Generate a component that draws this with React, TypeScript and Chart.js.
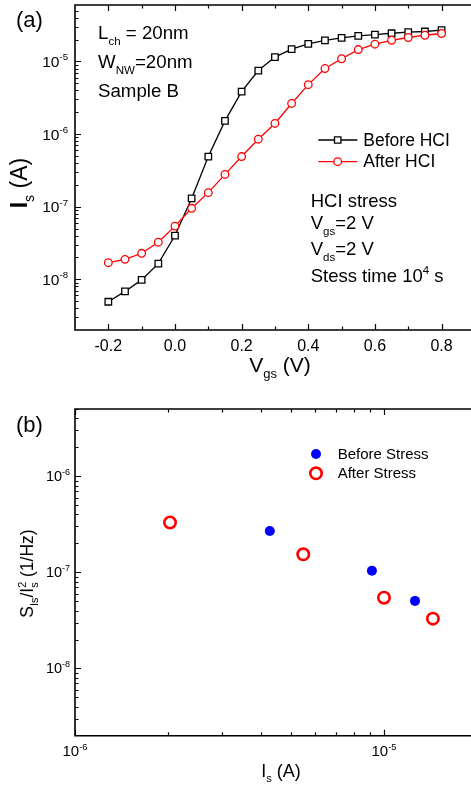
import React, { useEffect, useRef } from 'react';
import { Chart, registerables } from 'chart.js';

Chart.register(...registerables);

const FONT = '"Liberation Sans", Arial, Helvetica, sans-serif';

// ---------- Panel (a) data ----------
const vgs = [-0.2, -0.15, -0.1, -0.05, 0.0, 0.05, 0.1, 0.15, 0.2, 0.25, 0.3, 0.35, 0.4, 0.45, 0.5, 0.55, 0.6, 0.65, 0.7, 0.75, 0.8];
const isBeforeHCI = [4.9e-9, 6.8e-9, 9.8e-9, 1.64e-8, 4.0e-8, 1.3e-7, 4.9e-7, 1.52e-6, 3.85e-6, 7.5e-6, 1.15e-5, 1.48e-5, 1.75e-5, 1.95e-5, 2.12e-5, 2.26e-5, 2.35e-5, 2.45e-5, 2.53e-5, 2.59e-5, 2.7e-5];
const isAfterHCI = [1.69e-8, 1.88e-8, 2.28e-8, 3.24e-8, 5.4e-8, 9.5e-8, 1.56e-7, 2.78e-7, 4.9e-7, 8.5e-7, 1.4e-6, 2.64e-6, 4.8e-6, 8.0e-6, 1.09e-5, 1.46e-5, 1.73e-5, 1.96e-5, 2.14e-5, 2.3e-5, 2.43e-5];
const aXTickValues = [-0.2, 0.0, 0.2, 0.4, 0.6, 0.8];
const aXTickLabels = ['-0.2', '0.0', '0.2', '0.4', '0.6', '0.8'];
const aXMinorTicks = [-0.1, 0.1, 0.3, 0.5, 0.7];
const aYTickExps = [-8, -7, -6, -5];

// ---------- Panel (b) data ----------
const beforeStressIs = [4.27e-6, 9.14e-6, 1.26e-5];
const beforeStressNoise = [2.69e-7, 1.04e-7, 5.05e-8];
const afterStressIs = [2.03e-6, 5.48e-6, 1.0e-5, 1.44e-5];
const afterStressNoise = [3.3e-7, 1.54e-7, 5.45e-8, 3.3e-8];
const bXTickExps = [-6, -5];
const bYTickExps = [-8, -7, -6];

type Seg = { t: string; sub?: boolean; sup?: boolean; bold?: boolean; under?: string };

function segFont(size: number, bold?: boolean) {
  return `${bold ? 'bold ' : ''}${size}px ${FONT}`;
}

function richWidth(ctx: CanvasRenderingContext2D, segs: Seg[], size: number) {
  let w = 0;
  for (const s of segs) {
    const fs = s.sub || s.sup ? size * 0.62 : size;
    ctx.font = segFont(fs, s.bold);
    let sw = ctx.measureText(s.t).width;
    if (s.under) sw = Math.max(sw, ctx.measureText(s.under).width);
    w += sw;
  }
  return w;
}

function drawRich(ctx: CanvasRenderingContext2D, segs: Seg[], x: number, y: number, size: number, align: 'left' | 'center' | 'right' = 'left') {
  const total = richWidth(ctx, segs, size);
  let cx = align === 'left' ? x : align === 'center' ? x - total / 2 : x - total;
  ctx.textAlign = 'left';
  ctx.textBaseline = 'alphabetic';
  ctx.fillStyle = '#000';
  for (const s of segs) {
    const fs = s.sub || s.sup ? size * 0.62 : size;
    ctx.font = segFont(fs, s.bold);
    const dy = s.sub ? size * 0.3 : s.sup ? -size * 0.42 : 0;
    ctx.fillText(s.t, cx, y + dy);
    let sw = ctx.measureText(s.t).width;
    if (s.under) {
      ctx.fillText(s.under, cx, y + size * 0.3);
      sw = Math.max(sw, ctx.measureText(s.under).width);
    }
    cx += sw;
  }
}

function drawRotated(ctx: CanvasRenderingContext2D, segs: Seg[], x: number, y: number, size: number) {
  ctx.save();
  ctx.translate(x, y);
  ctx.rotate(-Math.PI / 2);
  drawRich(ctx, segs, 0, 0, size, 'center');
  ctx.restore();
}

function logMinors(min: number, max: number) {
  const out: number[] = [];
  for (let d = Math.floor(Math.log10(min)); d <= Math.ceil(Math.log10(max)); d++) {
    for (let m = 2; m <= 9; m++) {
      const v = m * Math.pow(10, d);
      if (v > min && v < max) out.push(v);
    }
  }
  return out;
}

function drawFrame(ctx: CanvasRenderingContext2D, a: { left: number; right: number; top: number; bottom: number }) {
  ctx.save();
  ctx.strokeStyle = '#000';
  ctx.lineWidth = 1.6;
  ctx.beginPath();
  ctx.moveTo(a.left, a.top);
  ctx.lineTo(a.right, a.top);
  ctx.lineTo(a.right, a.bottom);
  ctx.lineTo(a.left, a.bottom);
  ctx.closePath();
  ctx.stroke();
  ctx.restore();
}

function drawXTicks(ctx: CanvasRenderingContext2D, a: any, xs: any, vals: number[], len: number) {
  ctx.save();
  ctx.strokeStyle = '#000';
  ctx.lineWidth = 1.2;
  ctx.beginPath();
  for (const v of vals) {
    const px = Math.round(xs.getPixelForValue(v)) + 0.5;
    ctx.moveTo(px, a.bottom);
    ctx.lineTo(px, a.bottom - len);
    ctx.moveTo(px, a.top);
    ctx.lineTo(px, a.top + len);
  }
  ctx.stroke();
  ctx.restore();
}

function drawYTicks(ctx: CanvasRenderingContext2D, a: any, ys: any, vals: number[], len: number) {
  ctx.save();
  ctx.strokeStyle = '#000';
  ctx.lineWidth = 1.2;
  ctx.beginPath();
  for (const v of vals) {
    const py = Math.round(ys.getPixelForValue(v)) + 0.5;
    ctx.moveTo(a.left, py);
    ctx.lineTo(a.left + len, py);
  }
  ctx.stroke();
  ctx.restore();
}

function powLabel(e: number): Seg[] {
  return [{ t: '10' }, { t: String(e), sup: true }];
}

const panelAPlugin = {
  id: 'panelA',
  beforeDatasetsDraw(chart: any) {
    const ctx = chart.ctx as CanvasRenderingContext2D;
    const a = chart.chartArea;
    const xs = chart.scales.x;
    const ys = chart.scales.y;
    drawFrame(ctx, a);
    drawXTicks(ctx, a, xs, aXTickValues, 6);
    drawXTicks(ctx, a, xs, aXMinorTicks, 3.5);
    drawYTicks(ctx, a, ys, aYTickExps.map((e) => Math.pow(10, e)), 6);
    drawYTicks(ctx, a, ys, logMinors(ys.min, ys.max), 3.5);
  },
  afterDraw(chart: any) {
    const ctx = chart.ctx as CanvasRenderingContext2D;
    const xs = chart.scales.x;
    const ys = chart.scales.y;
    ctx.save();
    // tick labels
    aXTickValues.forEach((v, i) => {
      drawRich(ctx, [{ t: aXTickLabels[i] }], xs.getPixelForValue(v), 351, 16, 'center');
    });
    aYTickExps.forEach((e) => {
      drawRich(ctx, powLabel(e), 68, ys.getPixelForValue(Math.pow(10, e)) + 5.5, 15.5, 'right');
    });
    // axis titles
    drawRich(ctx, [{ t: 'V' }, { t: 'gs', sub: true }, { t: ' (V)' }], 280, 372, 21, 'center');
    drawRotated(ctx, [{ t: 'I', bold: true }, { t: 's', sub: true }, { t: ' (A)' }], 27, 183, 23);
    // panel label
    drawRich(ctx, [{ t: '(a)' }], 16, 26.5, 22);
    // device annotation
    drawRich(ctx, [{ t: 'L' }, { t: 'ch', sub: true }, { t: ' = 20nm' }], 98, 39.3, 18.7);
    drawRich(ctx, [{ t: 'W' }, { t: 'NW', sub: true }, { t: '=20nm' }], 98, 68.3, 18.7);
    drawRich(ctx, [{ t: 'Sample B' }], 98, 97, 18.7);
    // stress annotation
    drawRich(ctx, [{ t: 'HCI stress' }], 310.7, 206.7, 18.5);
    drawRich(ctx, [{ t: 'V' }, { t: 'gs', sub: true }, { t: '=2 V' }], 310.7, 229.3, 18.5);
    drawRich(ctx, [{ t: 'V' }, { t: 'ds', sub: true }, { t: '=2 V' }], 310.7, 255, 18.5);
    drawRich(ctx, [{ t: 'Stess time 10' }, { t: '4', sup: true }, { t: ' s' }], 310.7, 281.7, 18.5);
    // legend
    const leg = [
      { y: 140, color: '#000000', style: 'rect', label: 'Before HCI', base: 145.7 },
      { y: 161.7, color: '#ff0000', style: 'circle', label: 'After HCI', base: 166.7 },
    ];
    for (const l of leg) {
      ctx.strokeStyle = l.color;
      ctx.lineWidth = 1.3;
      ctx.beginPath();
      ctx.moveTo(318.3, l.y);
      ctx.lineTo(357.3, l.y);
      ctx.stroke();
      ctx.fillStyle = '#fff';
      ctx.beginPath();
      if (l.style === 'rect') {
        ctx.rect(337.7 - 3.2, l.y - 3.2, 6.4, 6.4);
      } else {
        ctx.arc(337.7, l.y, 3.8, 0, Math.PI * 2);
      }
      ctx.fill();
      ctx.stroke();
      drawRich(ctx, [{ t: l.label }], 363.3, l.base, 17.5);
    }
    ctx.restore();
  },
};

const panelBPlugin = {
  id: 'panelB',
  beforeDatasetsDraw(chart: any) {
    const ctx = chart.ctx as CanvasRenderingContext2D;
    const a = chart.chartArea;
    const xs = chart.scales.x;
    const ys = chart.scales.y;
    drawFrame(ctx, a);
    drawXTicks(ctx, a, xs, bXTickExps.map((e) => Math.pow(10, e)), 6);
    drawXTicks(ctx, a, xs, logMinors(xs.min, xs.max), 3.5);
    drawYTicks(ctx, a, ys, bYTickExps.map((e) => Math.pow(10, e)), 6);
    drawYTicks(ctx, a, ys, logMinors(ys.min, ys.max), 3.5);
  },
  afterDraw(chart: any) {
    const ctx = chart.ctx as CanvasRenderingContext2D;
    const xs = chart.scales.x;
    const ys = chart.scales.y;
    ctx.save();
    bXTickExps.forEach((e) => {
      drawRich(ctx, powLabel(e), xs.getPixelForValue(Math.pow(10, e)), 356, 15, 'center');
    });
    bYTickExps.forEach((e) => {
      drawRich(ctx, powLabel(e), 70, ys.getPixelForValue(Math.pow(10, e)) + 5, 14.5, 'right');
    });
    drawRich(ctx, [{ t: 'I' }, { t: 's', sub: true }, { t: ' (A)' }], 281, 377, 18, 'center');
    drawRotated(
      ctx,
      [{ t: 'S' }, { t: 'Is', sub: true }, { t: '/I' }, { t: '2', sup: true, under: 's' }, { t: ' (1/Hz)' }],
      33,
      173.5,
      17.5
    );
    drawRich(ctx, [{ t: '(b)' }], 16, 31.7, 22);
    // legend
    ctx.fillStyle = '#0000ff';
    ctx.beginPath();
    ctx.arc(316, 54, 5, 0, Math.PI * 2);
    ctx.fill();
    ctx.strokeStyle = '#ff0000';
    ctx.lineWidth = 2.6;
    ctx.beginPath();
    ctx.arc(316, 73.3, 5.7, 0, Math.PI * 2);
    ctx.stroke();
    drawRich(ctx, [{ t: 'Before Stress' }], 337.7, 59.3, 15);
    drawRich(ctx, [{ t: 'After Stress' }], 337.7, 78.3, 15);
    ctx.restore();
  },
};

export default function App() {
  const refA = useRef<HTMLCanvasElement | null>(null);
  const refB = useRef<HTMLCanvasElement | null>(null);

  useEffect(() => {
    if (!refA.current || !refB.current) return;
    const chartA = new Chart(refA.current, {
      type: 'line',
      data: {
        datasets: [
          {
            label: 'Before HCI',
            data: vgs.map((v, i) => ({ x: v, y: isBeforeHCI[i] })),
            borderColor: '#000000',
            backgroundColor: '#ffffff',
            pointBackgroundColor: '#ffffff',
            pointBorderColor: '#000000',
            pointStyle: 'rect',
            pointRadius: 4.6,
            pointBorderWidth: 1.3,
            borderWidth: 1.3,
            tension: 0,
            order: 1,
          },
          {
            label: 'After HCI',
            data: vgs.map((v, i) => ({ x: v, y: isAfterHCI[i] })),
            borderColor: '#ff0000',
            backgroundColor: '#ffffff',
            pointBackgroundColor: '#ffffff',
            pointBorderColor: '#ff0000',
            pointStyle: 'circle',
            pointRadius: 3.8,
            pointBorderWidth: 1.3,
            borderWidth: 1.3,
            tension: 0,
            order: 0,
          },
        ],
      },
      options: {
        responsive: false,
        animation: false,
        events: [],
        layout: { autoPadding: false, padding: { left: 0, top: 5, right: 5.1, bottom: 0 } },
        plugins: { legend: { display: false }, tooltip: { enabled: false } },
        scales: {
          x: {
            type: 'linear',
            position: 'bottom',
            min: -0.3,
            max: 0.9,
            grid: { display: false },
            border: { display: false },
            ticks: { display: false },
            afterFit: (s: any) => {
              s.height = 65;
            },
          },
          y: {
            type: 'logarithmic',
            position: 'left',
            min: 2e-9,
            max: 6e-5,
            grid: { display: false },
            border: { display: false },
            ticks: { display: false },
            afterFit: (s: any) => {
              s.width = 75;
            },
          },
        },
      } as any,
      plugins: [panelAPlugin],
    });

    const chartB = new Chart(refB.current, {
      type: 'scatter',
      data: {
        datasets: [
          {
            label: 'Before Stress',
            data: beforeStressIs.map((v, i) => ({ x: v, y: beforeStressNoise[i] })),
            backgroundColor: '#0000ff',
            borderColor: '#0000ff',
            pointRadius: 5,
            pointBorderWidth: 0,
            showLine: false,
          },
          {
            label: 'After Stress',
            data: afterStressIs.map((v, i) => ({ x: v, y: afterStressNoise[i] })),
            backgroundColor: 'rgba(0,0,0,0)',
            borderColor: '#ff0000',
            pointRadius: 5.7,
            pointBorderWidth: 2.6,
            showLine: false,
          },
        ],
      },
      options: {
        responsive: false,
        animation: false,
        events: [],
        layout: { autoPadding: false, padding: { left: 0, top: 9, right: 3, bottom: 0 } },
        plugins: { legend: { display: false }, tooltip: { enabled: false } },
        scales: {
          x: {
            type: 'logarithmic',
            position: 'bottom',
            min: 1e-6,
            max: 2e-5,
            grid: { display: false },
            border: { display: false },
            ticks: { display: false },
            afterFit: (s: any) => {
              s.height = 50.3;
            },
          },
          y: {
            type: 'logarithmic',
            position: 'left',
            min: 2e-9,
            max: 5e-6,
            grid: { display: false },
            border: { display: false },
            ticks: { display: false },
            afterFit: (s: any) => {
              s.width = 75;
            },
          },
        },
      } as any,
      plugins: [panelBPlugin],
    });

    return () => {
      chartA.destroy();
      chartB.destroy();
    };
  }, []);

  return (
    <div style={{ position: 'absolute', left: 0, top: 0, width: 471, height: 786, overflow: 'hidden', background: '#fff' }}>
      <canvas ref={refA} width={480} height={395} style={{ position: 'absolute', left: 0, top: 0, display: 'block' }} />
      <canvas ref={refB} width={480} height={386} style={{ position: 'absolute', left: 0, top: 400, display: 'block' }} />
    </div>
  );
}
